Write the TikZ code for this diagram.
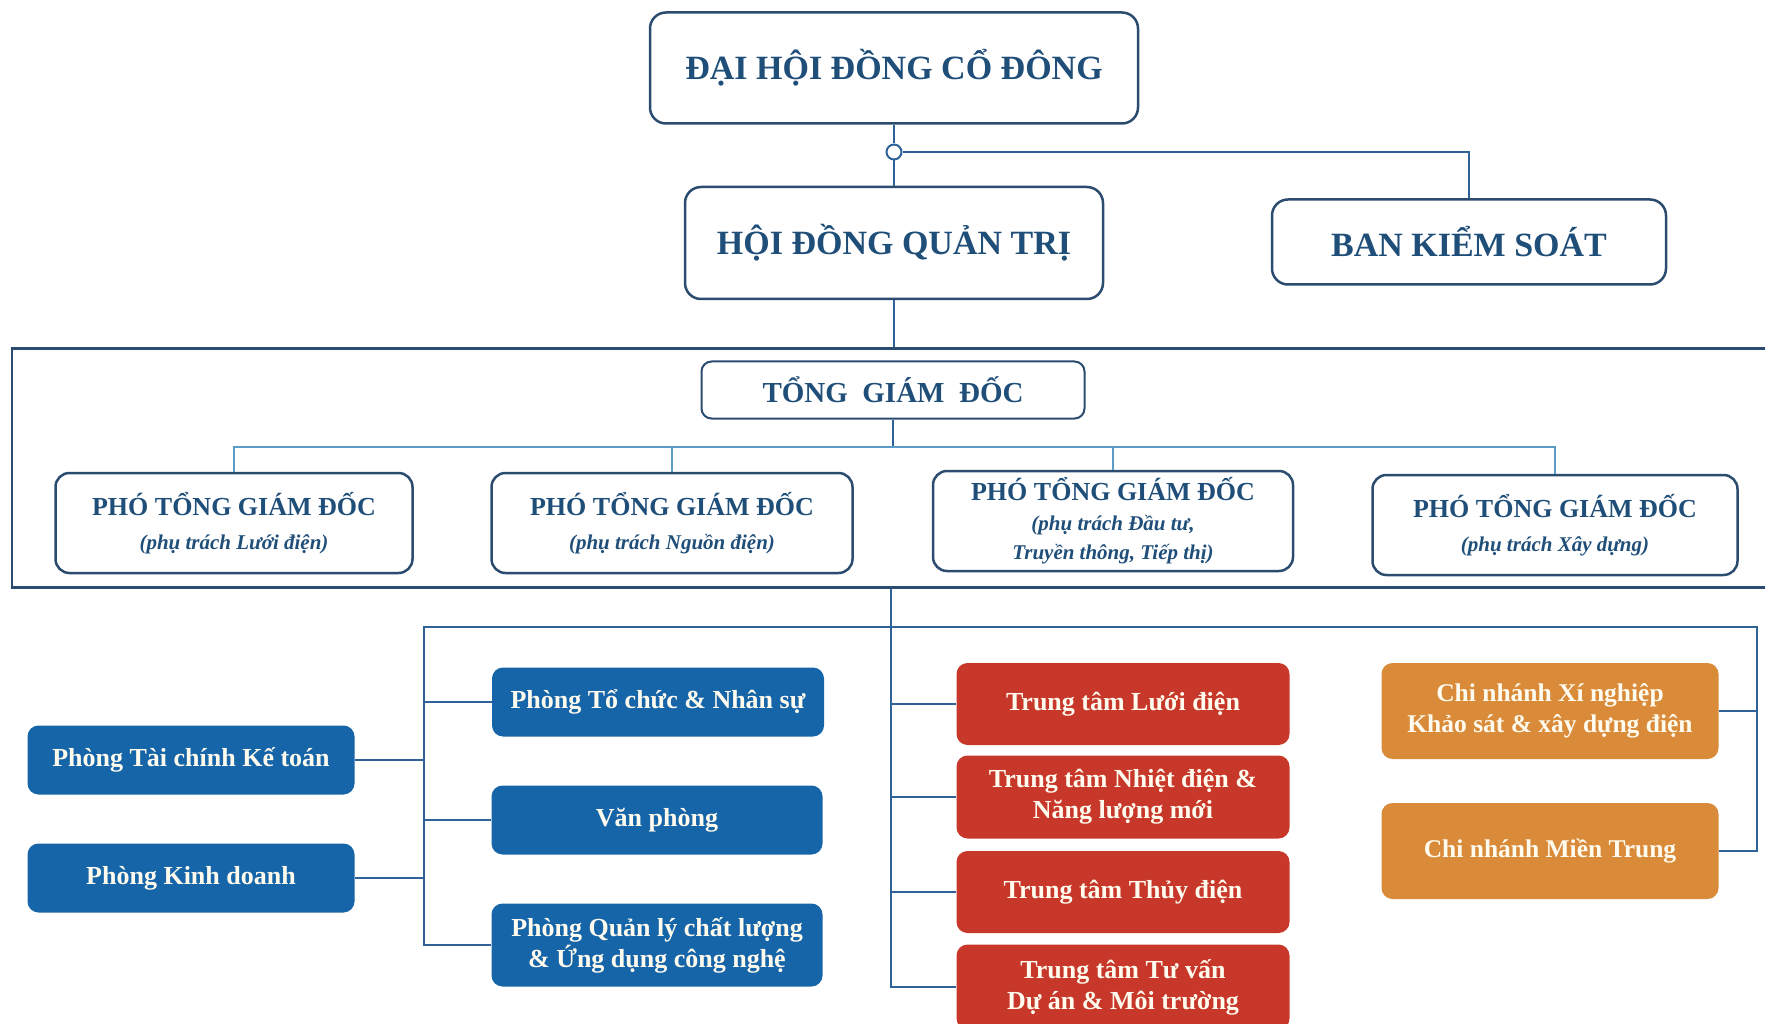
\documentclass[tikz,border=0pt]{standalone}
\usepackage{fontspec}
\setmainfont{Liberation Serif}
\definecolor{navy}{HTML}{1F4E79}
\definecolor{navyline}{HTML}{2B4C6F}
\definecolor{linkblue}{HTML}{2F6296}
\definecolor{barblue}{HTML}{5B9BC4}
\definecolor{deptblue}{HTML}{1565A8}
\definecolor{centred}{HTML}{C8382A}
\definecolor{branchorange}{HTML}{D98B3A}
\definecolor{cream}{HTML}{FFFBEF}
\tikzset{
  headbox/.style={draw=navyline, line width=2.5pt, rounded corners=16pt, text=navy,
    inner sep=0pt, align=center},
  frame/.style={draw=navyline, line width=2.5pt, inner sep=0pt},
  deptbox/.style={fill=deptblue, rounded corners=11pt, text=cream, inner sep=0pt,
    align=center, font=\fontsize{26}{31}\selectfont\bfseries},
  centrebox/.style={deptbox, fill=centred},
  branchbox/.style={deptbox, fill=branchorange, font=\fontsize{25.5}{31}\selectfont\bfseries},
  link/.style={draw=linkblue, line width=2pt},
  barlink/.style={draw=barblue, line width=2.5pt}
}
\newcommand{\sub}[1]{{\fontsize{21}{26}\selectfont\itshape #1}}
\begin{document}
\begin{tikzpicture}[x=1pt,y=-1pt]
\useasboundingbox (0,0) rectangle (1765,1024);

\node[headbox, minimum width=488pt, minimum height=111pt,
  font=\fontsize{34}{38}\selectfont\bfseries] (dhdcd) at (894,68) {ĐẠI HỘI ĐỒNG CỔ ĐÔNG};
\node[headbox, minimum width=418pt, minimum height=112pt,
  font=\fontsize{34}{38}\selectfont\bfseries] (hdqt) at (894,243) {HỘI ĐỒNG QUẢN TRỊ};
\node[headbox, minimum width=394pt, minimum height=85pt,
  font=\fontsize{34}{38}\selectfont\bfseries] (bks) at (1469,242) {BAN KIỂM SOÁT};
\node[circle, draw=linkblue, line width=2pt, fill=white, minimum size=15pt, inner sep=0pt] (junc) at (894,152) {};

\node[frame, minimum width=1778pt, minimum height=239pt] (exec) at (901,468) {};
\node[headbox, line width=2pt, rounded corners=10pt, minimum width=383pt, minimum height=57pt,
  font=\fontsize{29}{32}\selectfont\bfseries] (tgd) at (893,390) {TỔNG\ \ GIÁM\ \ ĐỐC};

\node[headbox, rounded corners=14pt, minimum width=357pt, minimum height=100pt,
  font=\fontsize{26}{29}\selectfont\bfseries] (ptgd1) at (234,523)
  {PHÓ TỔNG GIÁM ĐỐC\\[5pt]\sub{(phụ trách Lưới điện)}};
\node[headbox, rounded corners=14pt, minimum width=361pt, minimum height=100pt,
  font=\fontsize{26}{29}\selectfont\bfseries] (ptgd2) at (672,523)
  {PHÓ TỔNG GIÁM ĐỐC\\[5pt]\sub{(phụ trách Nguồn điện)}};
\node[headbox, rounded corners=14pt, minimum width=360pt, minimum height=100pt,
  font=\fontsize{26}{29}\selectfont\bfseries] (ptgd3) at (1113,521)
  {PHÓ TỔNG GIÁM ĐỐC\\[1pt]\sub{(phụ trách Đầu tư,}\\\sub{Truyền thông, Tiếp thị)}};
\node[headbox, rounded corners=14pt, minimum width=365pt, minimum height=100pt,
  font=\fontsize{26}{29}\selectfont\bfseries] (ptgd4) at (1555,525)
  {PHÓ TỔNG GIÁM ĐỐC\\[5pt]\sub{(phụ trách Xây dựng)}};

\node[deptbox, minimum width=327pt, minimum height=69pt] (tckt) at (191,760) {Phòng Tài chính Kế toán};
\node[deptbox, minimum width=327pt, minimum height=69pt] (kd) at (191,878) {Phòng Kinh doanh};
\node[deptbox, minimum width=332pt, minimum height=69pt] (tcns) at (658,702) {Phòng Tổ chức \& Nhân sự};
\node[deptbox, minimum width=331pt, minimum height=69pt] (vp) at (657,820) {Văn phòng};
\node[deptbox, minimum width=331pt, minimum height=83pt] (qlcl) at (657,945)
  {Phòng Quản lý chất lượng\\\& Ứng dụng công nghệ};

\node[centrebox, minimum width=333pt, minimum height=82pt] (luoi) at (1123,704) {Trung tâm Lưới điện};
\node[centrebox, minimum width=333pt, minimum height=83pt] (nhiet) at (1123,797)
  {Trung tâm Nhiệt điện \&\\Năng lượng mới};
\node[centrebox, minimum width=333pt, minimum height=82pt] (thuy) at (1123,892) {Trung tâm Thủy điện};
\node[centrebox, minimum width=333pt, minimum height=85pt] (tuvan) at (1123,987)
  {Trung tâm Tư vấn\\Dự án \& Môi trường};

\node[branchbox, minimum width=337pt, minimum height=96pt] (xn) at (1550,711)
  {Chi nhánh Xí nghiệp\\Khảo sát \& xây dựng điện};
\node[branchbox, minimum width=337pt, minimum height=96pt] (mt) at (1550,851) {Chi nhánh Miền Trung};

\coordinate (bar) at (893,447);
\coordinate (hub) at (891,627);
\coordinate (lbus) at (424,627);
\coordinate (rbus) at (1757,627);

\draw[link] (dhdcd.south) -- (junc.north);
\draw[link] (junc.south) -- (hdqt.north);
\draw[link] (junc.east) -| (bks.north);
\draw[link] (hdqt.south) -- (hdqt.south |- exec.north);

\draw[link] (tgd.south) -- (bar);
\draw[barlink] (ptgd1.north) |- (bar) -| (ptgd4.north);
\draw[barlink] (ptgd2.north) -- (ptgd2.north |- bar);
\draw[barlink] (ptgd3.north) -- (ptgd3.north |- bar);

\draw[link] (exec.south -| hub) -- (hub |- tuvan.west) -- (tuvan.west);
\draw[link] (qlcl.west) -- (lbus |- qlcl.west) -- (lbus) -- (rbus) |- (mt.east);
\draw[link] (tckt.east) -- (tckt.east -| lbus);
\draw[link] (kd.east) -- (kd.east -| lbus);
\draw[link] (tcns.west) -- (tcns.west -| lbus);
\draw[link] (vp.west) -- (vp.west -| lbus);
\draw[link] (luoi.west) -- (luoi.west -| hub);
\draw[link] (nhiet.west) -- (nhiet.west -| hub);
\draw[link] (thuy.west) -- (thuy.west -| hub);
\draw[link] (xn.east) -- (xn.east -| rbus);
\end{tikzpicture}
\end{document}
